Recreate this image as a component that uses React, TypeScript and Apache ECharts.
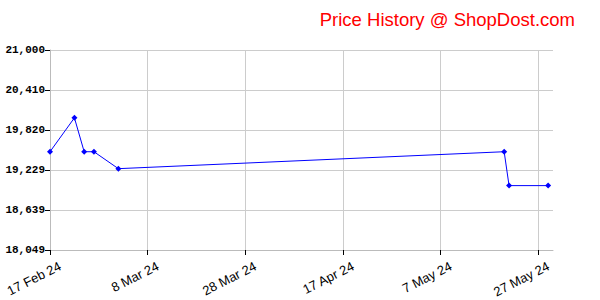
import React, { useEffect, useRef } from "react";
import * as echarts from "echarts";

const startDate = "2024-02-17";
const priceDates = ["2024-02-17", "2024-02-22", "2024-02-24", "2024-02-26", "2024-03-02", "2024-05-20", "2024-05-21", "2024-05-29"];
const priceValues = [19499, 19999, 19499, 19499, 19249, 19499, 18999, 18999];
const xTickDays = [0, 20, 40, 60, 80, 100];
const yTicks = [18049, 18639.2, 19229.4, 19819.6, 20409.8, 21000];
const titleText = "Price History @ ShopDost.com";

const DAY = 86400000;
const months = ["Jan", "Feb", "Mar", "Apr", "May", "Jun", "Jul", "Aug", "Sep", "Oct", "Nov", "Dec"];
const t0 = Date.parse(startDate + "T00:00:00Z");
const dayOf = (s: string) => Math.round((Date.parse(s + "T00:00:00Z") - t0) / DAY);
const fmtDay = (d: number) => {
  const dt = new Date(t0 + d * DAY);
  return `${dt.getUTCDate()} ${months[dt.getUTCMonth()]} ${String(dt.getUTCFullYear()).slice(2)}`;
};

export default function App() {
  const ref = useRef<HTMLDivElement>(null);
  useEffect(() => {
    if (!ref.current) return;
    const chart = echarts.init(ref.current, null, { renderer: "svg" });
    chart.setOption({
      animation: false,
      backgroundColor: "#ffffff",
      title: {
        text: titleText,
        right: 25,
        top: 10,
        padding: 0,
        textStyle: { color: "#ff0000", fontFamily: "Liberation Sans", fontSize: 18.5, fontWeight: "normal" },
      },
      grid: { left: 50, top: 50, right: 47, bottom: 50, containLabel: false, outerBoundsMode: "none" },
      xAxis: {
        type: "value",
        min: 0,
        max: 103,
        axisLine: { show: true, lineStyle: { color: "#bbbbbb", width: 1 } },
        axisTick: { show: true, length: 5, customValues: xTickDays, lineStyle: { color: "#000000" } },
        splitLine: { show: true, lineStyle: { color: "#cccccc", width: 1 } },
        axisLabel: {
          customValues: xTickDays,
          rotate: 27,
          margin: 4,
          verticalAlign: "top",
          lineHeight: 13,
          padding: [8, -4, 0, 0],
          color: "#000000",
          fontFamily: "Liberation Sans",
          fontSize: 13,
          formatter: (v: number) => fmtDay(v),
        },
      },
      yAxis: {
        type: "value",
        min: 18049,
        max: 21000,
        axisLine: { show: true, lineStyle: { color: "#bbbbbb", width: 1 } },
        axisTick: { show: true, length: 5, customValues: yTicks, lineStyle: { color: "#000000" } },
        splitLine: { show: true, lineStyle: { color: "#cccccc", width: 1 } },
        axisLabel: {
          customValues: yTicks,
          margin: 5,
          color: "#000000",
          fontFamily: "Liberation Mono",
          fontWeight: "bold",
          fontSize: 11,
          formatter: (v: number) => Math.round(v).toLocaleString("en-US"),
        },
      },
      series: [
        {
          type: "line",
          data: priceDates.map((d, i) => [dayOf(d), priceValues[i]]),
          lineStyle: { color: "#0000ff", width: 1 },
          itemStyle: { color: "#0000ff" },
          symbol: "diamond",
          symbolSize: 6,
          showAllSymbol: true,
        },
      ],
    });
    return () => chart.dispose();
  }, []);
  return <div ref={ref} style={{ position: "fixed", left: 0, top: 0, width: 600, height: 300 }} />;
}
